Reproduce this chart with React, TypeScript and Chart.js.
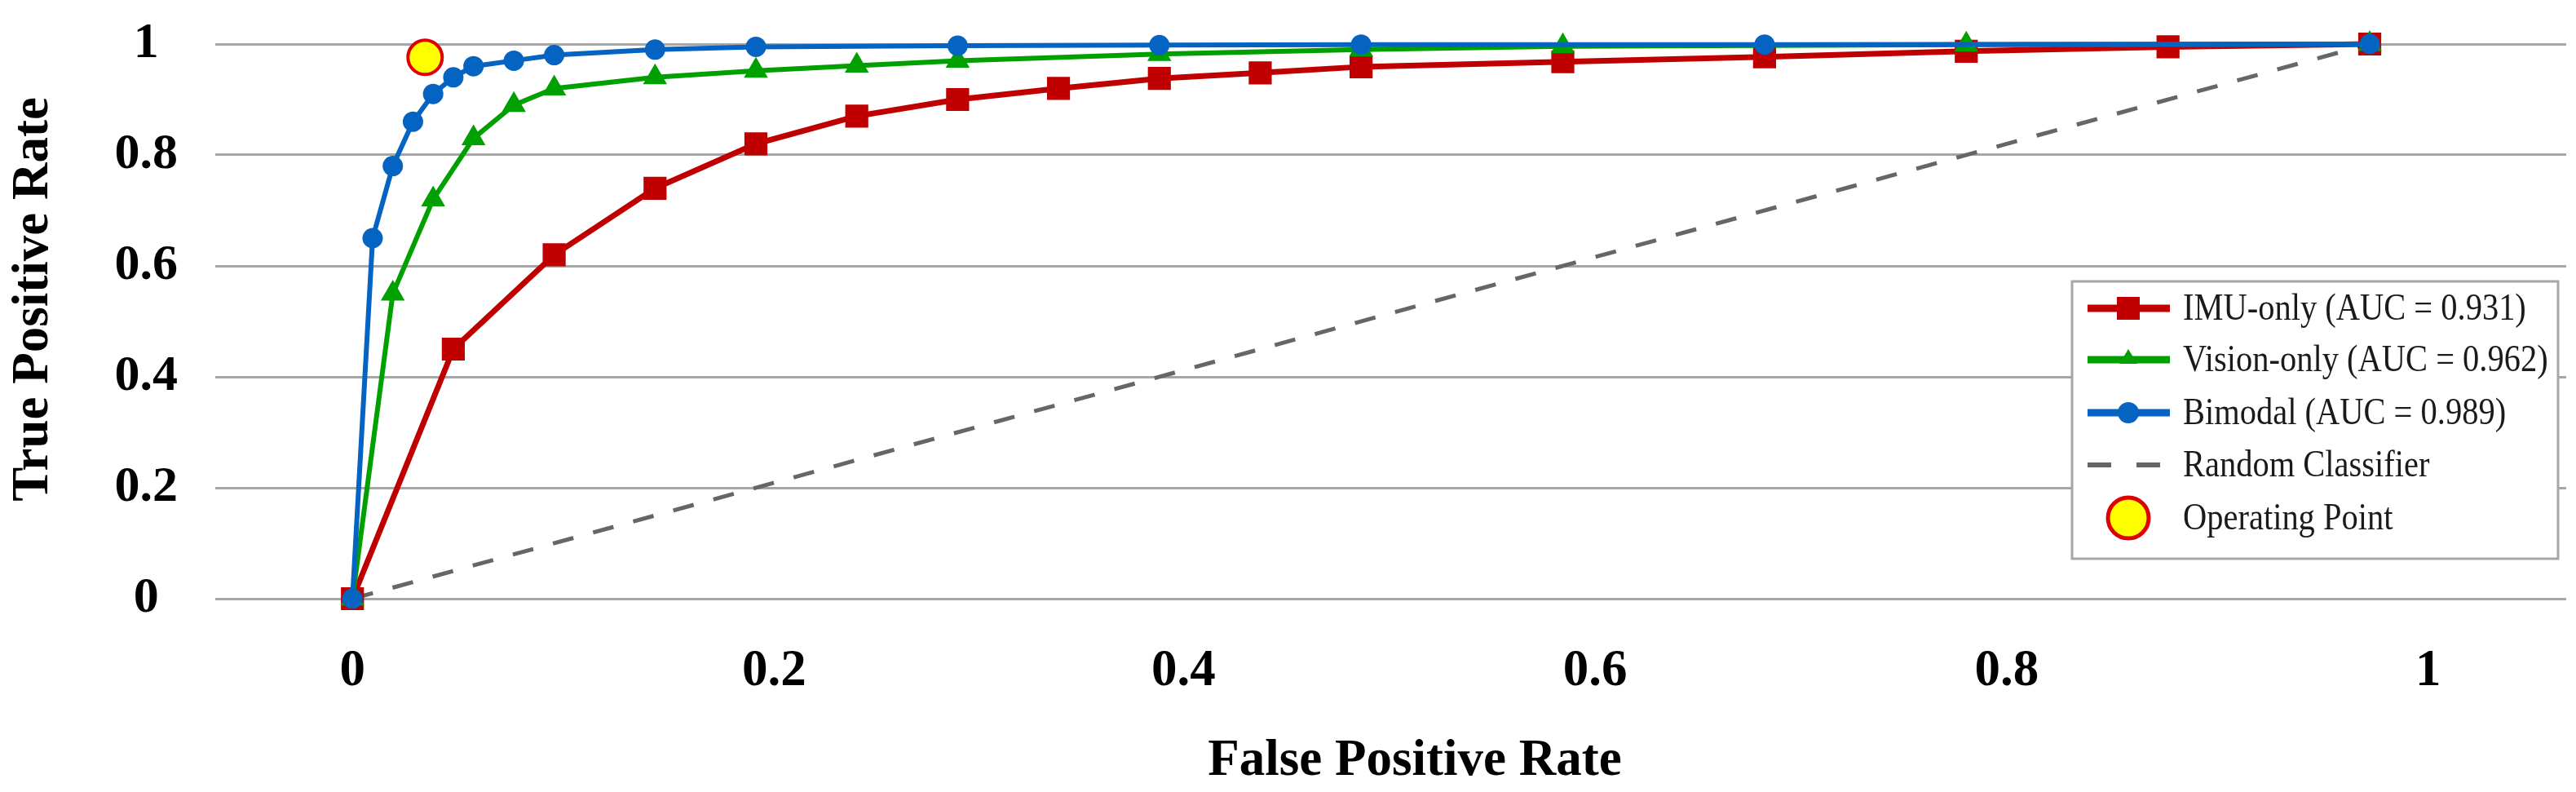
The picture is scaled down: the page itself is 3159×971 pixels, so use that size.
import React, { useEffect, useRef } from 'react';
import { Chart, registerables } from 'chart.js';

Chart.register(...registerables);

const SERIF = "'Liberation Serif', 'Times New Roman', Times, serif";

// ---- data ----
const IMU_FPR = [0, 0.05, 0.1, 0.15, 0.2, 0.25, 0.3, 0.35, 0.4, 0.45, 0.5, 0.6, 0.7, 0.8, 0.9, 1.0];
const IMU_TPR = [0, 0.45, 0.62, 0.74, 0.82, 0.87, 0.9, 0.92, 0.938, 0.948, 0.959, 0.968, 0.977, 0.987, 0.995, 1.0];

const VISION_FPR = [0, 0.02, 0.04, 0.06, 0.08, 0.1, 0.15, 0.2, 0.25, 0.3, 0.4, 0.5, 0.6, 0.8, 1.0];
const VISION_TPR = [0, 0.55, 0.72, 0.83, 0.89, 0.92, 0.94, 0.952, 0.961, 0.97, 0.982, 0.99, 0.996, 0.999, 1.0];

const BIMODAL_FPR = [0, 0.01, 0.02, 0.03, 0.04, 0.05, 0.06, 0.08, 0.1, 0.15, 0.2, 0.3, 0.4, 0.5, 0.7, 1.0];
const BIMODAL_TPR = [0, 0.65, 0.78, 0.86, 0.91, 0.94, 0.96, 0.97, 0.98, 0.99, 0.995, 0.997, 0.998, 0.999, 0.999, 1.0];

const RANDOM_FPR = [0, 1];
const RANDOM_TPR = [0, 1];

const OPERATING_FPR = [0.036];
const OPERATING_TPR = [0.976];

const X_TICK_LABELS = ['0', '0.2', '0.4', '0.6', '0.8', '1'];
const X_TICK_VALUES = [0, 0.209, 0.412, 0.616, 0.82, 1.029];
const Y_TICK_LABELS = ['0', '0.2', '0.4', '0.6', '0.8', '1'];
const Y_TICK_VALUES = [0, 0.2, 0.4, 0.6, 0.8, 1];

const X_TITLE = 'False Positive Rate';
const Y_TITLE = 'True Positive Rate';

const SERIES_LABELS = [
  'IMU-only (AUC = 0.931)',
  'Vision-only (AUC = 0.962)',
  'Bimodal (AUC = 0.989)',
  'Random Classifier',
  'Operating Point',
];

const RED = '#C00000';
const GREEN = '#00A000';
const BLUE = '#0563C1';
const GRAY = '#666666';
const YELLOW = '#FFFF00';
const OP_BORDER = '#E00000';

const zip = (xs: number[], ys: number[]) => xs.map((x, i) => ({ x, y: ys[i] }));

const titlesPlugin = {
  id: 'axisTitles',
  afterDraw(chart: any) {
    const ctx: CanvasRenderingContext2D = chart.ctx;
    ctx.save();
    ctx.fillStyle = '#000';
    ctx.font = `bold 63px ${SERIF}`;
    ctx.textAlign = 'center';
    ctx.textBaseline = 'middle';
    ctx.fillText(X_TITLE, 1735, 934);
    ctx.translate(42, 367);
    ctx.rotate(-Math.PI / 2);
    ctx.fillText(Y_TITLE, 0, 0);
    ctx.restore();
  },
};

const legendPlugin = {
  id: 'rocLegend',
  afterDraw(chart: any) {
    const ctx: CanvasRenderingContext2D = chart.ctx;
    ctx.save();
    const bx = 2541, by = 345, bw = 596, bh = 340;
    ctx.fillStyle = '#ffffff';
    ctx.fillRect(bx, by, bw, bh);
    ctx.strokeStyle = '#A6A6A6';
    ctx.lineWidth = 3;
    ctx.strokeRect(bx, by, bw, bh);

    const rowY = [378, 441, 506, 570, 635];
    const x0 = 2560, x1 = 2661, cx = 2610, tx = 2677;

    // IMU
    ctx.setLineDash([]);
    ctx.strokeStyle = RED; ctx.lineWidth = 9;
    ctx.beginPath(); ctx.moveTo(x0, rowY[0]); ctx.lineTo(x1, rowY[0]); ctx.stroke();
    ctx.fillStyle = RED; ctx.fillRect(cx - 14, rowY[0] - 14, 28, 28);

    // Vision
    ctx.strokeStyle = GREEN;
    ctx.beginPath(); ctx.moveTo(x0, rowY[1]); ctx.lineTo(x1, rowY[1]); ctx.stroke();
    ctx.fillStyle = GREEN;
    ctx.beginPath();
    ctx.moveTo(cx, rowY[1] - 13); ctx.lineTo(cx + 11, rowY[1] + 5); ctx.lineTo(cx - 11, rowY[1] + 5);
    ctx.closePath(); ctx.fill();

    // Bimodal
    ctx.strokeStyle = BLUE;
    ctx.beginPath(); ctx.moveTo(x0, rowY[2]); ctx.lineTo(x1, rowY[2]); ctx.stroke();
    ctx.fillStyle = BLUE;
    ctx.beginPath(); ctx.arc(cx, rowY[2], 13, 0, Math.PI * 2); ctx.fill();

    // Random
    ctx.strokeStyle = GRAY; ctx.lineWidth = 6;
    ctx.setLineDash([29, 31]);
    ctx.beginPath(); ctx.moveTo(x0, rowY[3]); ctx.lineTo(x1 - 10, rowY[3]); ctx.stroke();
    ctx.setLineDash([]);

    // Operating point
    ctx.fillStyle = YELLOW; ctx.strokeStyle = OP_BORDER; ctx.lineWidth = 5;
    ctx.beginPath(); ctx.arc(cx, rowY[4], 25, 0, Math.PI * 2); ctx.fill(); ctx.stroke();

    // labels (slightly condensed serif, as in the original)
    ctx.fillStyle = '#1a1a1a';
    ctx.font = `46px ${SERIF}`;
    ctx.textAlign = 'left';
    ctx.textBaseline = 'middle';
    SERIES_LABELS.forEach((t, i) => {
      ctx.save();
      ctx.translate(tx, rowY[i] + 2);
      ctx.scale(0.88, 1);
      ctx.fillText(t, 0, 0);
      ctx.restore();
    });
    ctx.restore();
  },
};

export default function App() {
  const ref = useRef<HTMLCanvasElement | null>(null);

  useEffect(() => {
    if (!ref.current) return;
    const chart = new Chart(ref.current, {
      type: 'line',
      data: {
        datasets: [
          {
            label: SERIES_LABELS[4],
            data: zip(OPERATING_FPR, OPERATING_TPR),
            showLine: false,
            pointStyle: 'circle',
            pointRadius: 21,
            pointBackgroundColor: YELLOW,
            pointBorderColor: OP_BORDER,
            pointBorderWidth: 4,
            order: 0,
            clip: false,
          } as any,
          {
            label: SERIES_LABELS[2],
            data: zip(BIMODAL_FPR, BIMODAL_TPR),
            borderColor: BLUE,
            backgroundColor: BLUE,
            borderWidth: 6,
            pointStyle: 'circle',
            pointRadius: 9.5,
            pointBackgroundColor: BLUE,
            pointBorderColor: BLUE,
            tension: 0,
            order: 1,
            clip: false,
          },
          {
            label: SERIES_LABELS[1],
            data: zip(VISION_FPR, VISION_TPR),
            borderColor: GREEN,
            backgroundColor: GREEN,
            borderWidth: 6,
            pointStyle: 'triangle',
            pointRadius: 11,
            pointBackgroundColor: GREEN,
            pointBorderColor: GREEN,
            tension: 0,
            order: 2,
            clip: false,
          },
          {
            label: SERIES_LABELS[0],
            data: zip(IMU_FPR, IMU_TPR),
            borderColor: RED,
            backgroundColor: RED,
            borderWidth: 7,
            pointStyle: 'rect',
            pointRadius: 15,
            pointBackgroundColor: RED,
            pointBorderColor: RED,
            tension: 0,
            order: 3,
            clip: false,
          },
          {
            label: SERIES_LABELS[3],
            data: zip(RANDOM_FPR, RANDOM_TPR),
            borderColor: GRAY,
            borderWidth: 5,
            borderDash: [26, 25],
            pointRadius: 0,
            order: 4,
            clip: false,
          },
        ],
      },
      options: {
        responsive: false,
        animation: false,
        devicePixelRatio: 1,
        layout: { autoPadding: false, padding: { top: 54, right: 12, left: 0, bottom: 0 } },
        plugins: {
          legend: { display: false },
          tooltip: { enabled: false },
        },
        scales: {
          x: {
            type: 'linear',
            min: -0.068,
            max: 1.0974,
            afterBuildTicks: (scale: any) => {
              scale.ticks = X_TICK_VALUES.map((v) => ({ value: v }));
            },
            afterFit: (scale: any) => {
              scale.height = 237;
              scale.paddingLeft = 0;
              scale.paddingRight = 0;
            },
            grid: { display: false },
            border: { display: false },
            ticks: {
              autoSkip: false,
              maxRotation: 0,
              padding: 44,
              color: '#000',
              font: { family: SERIF, size: 63, weight: 'bold' },
              callback: (_v: any, i: number) => X_TICK_LABELS[i],
            },
            title: { display: false },
          },
          y: {
            type: 'linear',
            min: 0,
            max: 1,
            afterBuildTicks: (scale: any) => {
              scale.ticks = Y_TICK_VALUES.map((v) => ({ value: v }));
            },
            afterFit: (scale: any) => {
              scale.width = 264;
              scale.paddingTop = 0;
              scale.paddingBottom = 0;
            },
            grid: { color: '#A6A6A6', lineWidth: 3, drawTicks: false },
            border: { display: false },
            ticks: {
              autoSkip: false,
              padding: 46,
              crossAlign: 'center',
              color: '#000',
              font: { family: SERIF, size: 62, weight: 'bold' },
              callback: (_v: any, i: number) => Y_TICK_LABELS[i],
            },
            title: { display: false },
          },
        },
      },
      plugins: [titlesPlugin, legendPlugin],
    } as any);
    return () => chart.destroy();
  }, []);

  return (
    <div style={{ position: 'fixed', left: 0, top: 0, width: 3159, height: 971, background: '#fff' }}>
      <canvas ref={ref} width={3159} height={971} style={{ width: 3159, height: 971, display: 'block' }} />
    </div>
  );
}
